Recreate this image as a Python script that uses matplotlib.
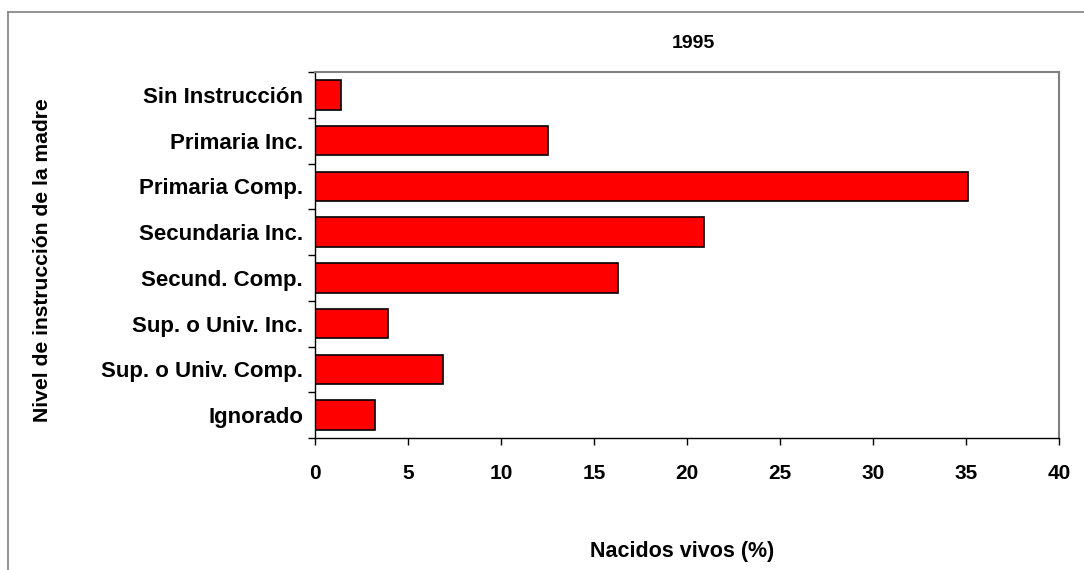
import matplotlib
matplotlib.use("Agg")
import matplotlib.pyplot as plt
from matplotlib.lines import Line2D
import numpy as np

categories = ["Sin Instrucción", "Primaria Inc.", "Primaria Comp.", "Secundaria Inc.",
              "Secund. Comp.", "Sup. o Univ. Inc.", "Sup. o Univ. Comp.", "Ignorado"]
values = [1.4, 12.5, 35.1, 20.9, 16.3, 3.9, 6.9, 3.2]
xticks = [0, 5, 10, 15, 20, 25, 30, 35, 40]
title = "1995"
xlabel = "Nacidos vivos (%)"
ylabel = "Nivel de instrucción de la madre"

plt.rcParams['font.family'] = ['Liberation Sans', 'DejaVu Sans']
plt.rcParams['font.weight'] = 'bold'

W, H = 1084, 570
fig = plt.figure(figsize=(W / 100, H / 100), dpi=100)
ax = fig.add_axes([315 / W, 1 - 438 / H, (1059 - 315) / W, (438 - 72) / H])

y = np.arange(len(categories))
ax.barh(y, values, height=0.64, color="#FF0000", edgecolor="black", linewidth=1.2)
ax.set_ylim(len(categories) - 0.5, -0.5)
ax.set_xlim(0, 40)

ax.set_xticks(xticks)
ax.set_xticklabels([str(t) for t in xticks], fontsize=15, fontweight='bold')
ax.set_yticks(y)
ax.set_yticklabels(categories, fontsize=16, fontweight='bold')
ax.set_yticks(np.arange(len(categories) + 1) - 0.5, minor=True)
ax.tick_params(axis='y', which='major', length=0, pad=8.5)
ax.tick_params(axis='y', which='minor', length=5, width=1, direction='out', color='black')
ax.tick_params(axis='x', which='major', length=5, width=1, direction='out', pad=14, color='black')

for s in ['left', 'bottom']:
    ax.spines[s].set_color('black')
    ax.spines[s].set_linewidth(1.0)
for s in ['top', 'right']:
    ax.spines[s].set_color('#808080')
    ax.spines[s].set_linewidth(1.5)

fig.text(693 / W, 1 - 43 / H, title, ha='center', va='center', fontsize=14, fontweight='bold')
fig.text(682 / W, 1 - 552 / H, xlabel, ha='center', va='center', fontsize=15.5, fontweight='bold')
fig.text(43 / W, 1 - 260 / H, ylabel, ha='center', va='center', rotation=90, fontsize=15.2, fontweight='bold')

# outer chart border (top and left visible)
fig.add_artist(Line2D([8 / W, 1.0], [1 - 12 / H, 1 - 12 / H], transform=fig.transFigure, color='#808080', lw=1.2))
fig.add_artist(Line2D([8 / W, 8 / W], [1 - 12 / H, 0.0], transform=fig.transFigure, color='#808080', lw=1.2))

fig.savefig("out.png", dpi=100)
